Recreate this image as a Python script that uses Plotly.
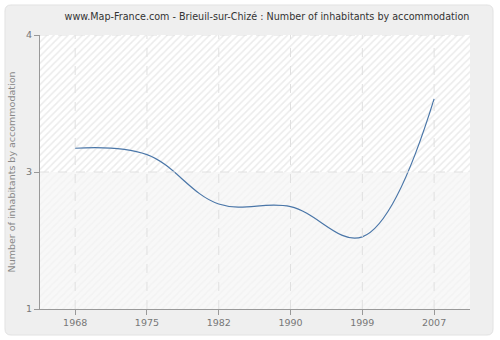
import plotly.graph_objects as go

years = [1968, 1975, 1982, 1990, 1999, 2007]
values = [2.76, 2.69, 2.15, 2.12, 1.79, 3.30]
tick_vals_y = [1, 2.5, 4]
tick_text_y = ["1", "3", "4"]

pos = list(range(len(years)))  # evenly spaced categories
x0, x1 = -0.49, len(years) - 0.5
y0, y1 = 1, 4

fig = go.Figure()
# background bands with hatch
fig.add_trace(go.Scatter(x=[x0, x1, x1, x0, x0], y=[2.5, 2.5, 4, 4, 2.5], fill="toself",
                         mode="none", fillcolor="#ffffff", hoverinfo="skip", showlegend=False,
                         fillpattern=dict(shape="/", fgcolor="#d8d8d8", bgcolor="#ffffff", size=5, solidity=0.3)))
fig.add_trace(go.Scatter(x=[x0, x1, x1, x0, x0], y=[1, 1, 2.5, 2.5, 1], fill="toself",
                         mode="none", fillcolor="#f8f8f8", hoverinfo="skip", showlegend=False,
                         fillpattern=dict(shape="/", fgcolor="#ededed", bgcolor="#f8f8f8", size=5, solidity=0.3)))

# dashed grid drawn over the hatched background
grid = dict(color="#e0e0e0", width=1, dash="dash")
for p in pos:
    fig.add_shape(type="line", xref="x", yref="paper", x0=p, x1=p, y0=0, y1=1, line=grid, layer="above")
for yv in tick_vals_y[1:]:
    fig.add_shape(type="line", xref="paper", yref="y", x0=0, x1=1, y0=yv, y1=yv, line=grid, layer="above")

fig.add_trace(go.Scatter(x=pos, y=values, mode="lines",
                         line=dict(color="#4a76a8", width=1.2, shape="spline", smoothing=1.1),
                         showlegend=False))

# rounded outer box (paper coords)
L, R, T, B = -0.0814, 1.0535, 1.1095, -0.0949
rx, ry = 0.014, 0.022
box = (f"M {L+rx},{T} L {R-rx},{T} Q {R},{T} {R},{T-ry} L {R},{B+ry} Q {R},{B} {R-rx},{B} "
       f"L {L+rx},{B} Q {L},{B} {L},{B+ry} L {L},{T-ry} Q {L},{T} {L+rx},{T} Z")
fig.add_shape(type="path", xref="paper", yref="paper", path=box,
              line=dict(color="#e2e2e2", width=1), fillcolor="#efefef", layer="below")

fig.update_layout(
    width=500, height=340,
    margin=dict(l=40, r=30, t=35, b=31),
    paper_bgcolor="#ffffff",
    plot_bgcolor="#ffffff",
    title=dict(text="www.Map-France.com - Brieuil-sur-Chizé : Number of inhabitants by accommodation",
               x=267 / 500, xanchor="center", xref="container", y=1 - 17 / 340, yanchor="middle",
               yref="container",
               font=dict(family="DejaVu Sans", size=9.6, color="#333333")),
    font=dict(family="DejaVu Sans", size=10, color="#777777"),
)
fig.update_xaxes(range=[x0, x1], tickvals=pos, ticktext=[str(y) for y in years],
                 showgrid=False,
                 showline=True, linecolor="#999999", ticks="outside", ticklen=5, tickcolor="#999999",
                 zeroline=False, layer="above traces", tickfont=dict(size=9.5, color="#777777"))
fig.update_yaxes(range=[y0, y1], tickvals=tick_vals_y, ticktext=tick_text_y,
                 showgrid=False,
                 showline=True, linecolor="#999999", ticks="outside", ticklen=5, tickcolor="#999999",
                 zeroline=False, layer="above traces", tickfont=dict(size=9.5, color="#777777"),
                 title=dict(text="Number of inhabitants by accommodation", standoff=8,
                            font=dict(size=9.5, color="#888888")))

fig.write_html("out.html")
